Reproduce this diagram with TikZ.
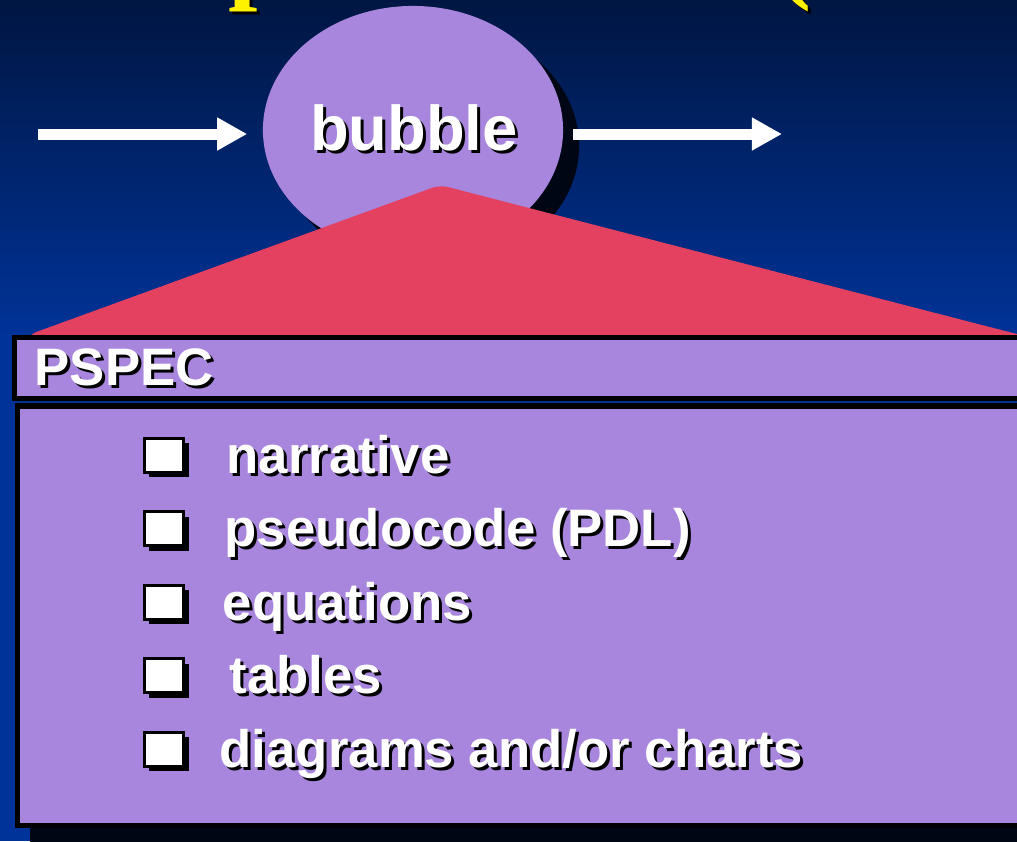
\documentclass[tikz,border=0pt]{standalone}
\usepackage{fontspec}
\setmainfont{Liberation Sans}
\newfontfamily\titlefont{Liberation Serif}
\usetikzlibrary{arrows.meta,shapes.geometric,shadows}

\definecolor{navytop}{RGB}{0,22,66}
\definecolor{navybot}{RGB}{0,51,153}
\definecolor{lilac}{RGB}{168,134,222}
\definecolor{rosered}{RGB}{228,64,96}
\definecolor{shadowc}{RGB}{0,6,20}

\tikzset{
  flow/.style={white, line width=0.11cm, -{Triangle[length=0.3cm,width=0.31cm]}},
  titletxt/.style={anchor=base west, inner sep=0pt, yellow,
    font=\titlefont\bfseries\fontsize{30}{36}\selectfont},
  itemtxt/.style={anchor=base west, inner sep=0pt, white,
    font=\bfseries\fontsize{15}{18}\selectfont},
  bubbletxt/.style={anchor=base, inner sep=0pt, white,
    font=\bfseries\fontsize{18}{22}\selectfont},
  bulletbox/.style={draw=black, fill=white, line width=0.03cm, inner sep=0pt,
    minimum width=0.39cm, minimum height=0.34cm,
    drop shadow={shadow xshift=0.05cm, shadow yshift=-0.05cm, fill=black, opacity=1}}
}

\begin{document}
\begin{tikzpicture}[x=0.01cm, y=-0.01cm]
    \useasboundingbox (0,0) rectangle (1017,841);
    \clip (0,0) rectangle (1017,841);
    % background
    \shade[top color=navytop, bottom color=navybot] (0,0) rectangle (1017,340);
    \fill[navybot] (0,340) rectangle (1017,841);
    % title, only its lowest part is in view
    \node[titletxt, black] (titlesh) at (-192,-8) {Process Specification (PSPEC)};
    \node[titletxt] (title) at (-195,-11) {Process Specification (PSPEC)};
    % the bubble and its flows
    \node[ellipse, fill=lilac, minimum width=3cm, minimum height=2.48cm, inner sep=0pt,
        drop shadow={shadow xshift=0.16cm, shadow yshift=-0.16cm, fill=shadowc, opacity=1}]
        (bubble) at (413,130) {};
    \node[bubbletxt, black] (bubblesh) at (417,153) {bubble};
    \node[bubbletxt] (bubblelbl) at (414,150) {bubble};
    \coordinate (in) at (38,134);
    \coordinate (out) at (782,134);
    \draw[flow, shorten >=0.15cm] (in) -- (in -| bubble.west);
    \draw[flow, shorten <=0.09cm] (bubble.east |- out) -- (out);
    % zoom wedge
    \fill[rosered, rounded corners=0.08cm] (440,185) -- (28,335) -- (28,350) -- (1040,350)
        -- (1040,340) -- cycle;
    % PSPEC body and header
    \fill[shadowc] (30,418) rectangle (1040,850);
    \filldraw[fill=lilac, draw=black, line width=0.055cm] (17.5,406) rectangle (1040,825.5);
    \filldraw[fill=lilac, draw=black, line width=0.05cm] (14.5,337.5) rectangle (1040,398.5);
    \node[itemtxt, black] (pspecsh) at (37,388) {PSPEC};
    \node[itemtxt] (pspec) at (34,385) {PSPEC};
    % list of forms
    \foreach \x/\t [count=\i, evaluate=\i as \yy using 381.5+73.5*\i] in
        {226/narrative, 224/{pseudocode (PDL)}, 222/equations, 229/tables,
         219/{diagrams and/or charts}}
    {
        \node[bulletbox] (b\i) at (164,\yy) {};
        \node[itemtxt, black] (t\i sh) at (\x+3,\yy+21) {\t};
        \node[itemtxt] (t\i) at (\x,\yy+18) {\t};
    }
\end{tikzpicture}
\end{document}
